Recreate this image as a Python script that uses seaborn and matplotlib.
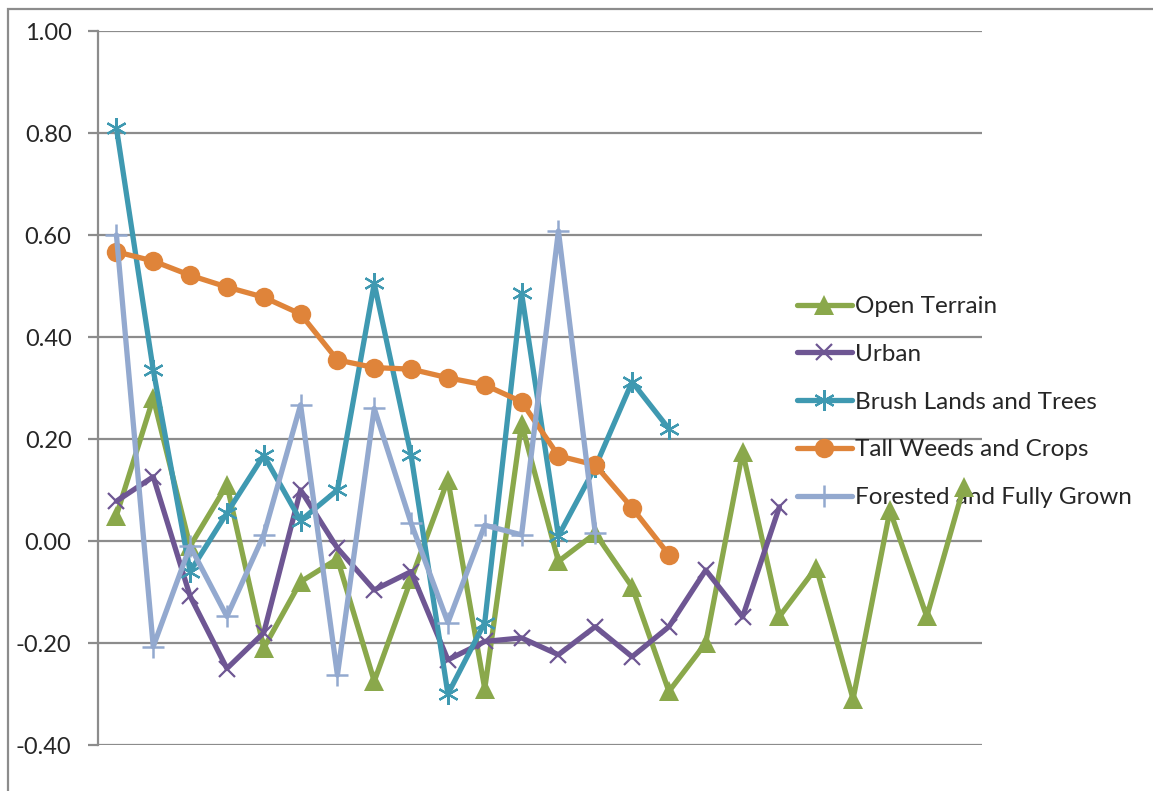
import matplotlib
matplotlib.use("Agg")
import matplotlib.pyplot as plt
from matplotlib.patches import Rectangle
import numpy as np
import pandas as pd
import seaborn as sns

sns.set_style("white")
plt.rcParams['font.family'] = ['Lato', 'DejaVu Sans']

# values, one list per land-cover class
open_terrain = [0.05, 0.28, -0.01, 0.11, -0.21, -0.08, -0.035, -0.275, -0.075, 0.12,
                -0.29, 0.23, -0.04, 0.015, -0.09, -0.295, -0.20, 0.175, -0.148, -0.052,
                -0.31, 0.06, -0.148, 0.105]
urban = [0.078, 0.126, -0.108, -0.25, -0.18, 0.10, -0.014, -0.096, -0.06, -0.233,
         -0.197, -0.19, -0.223, -0.168, -0.227, -0.168, -0.057, -0.149, 0.067]
brush = [0.81, 0.335, -0.06, 0.055, 0.168, 0.04, 0.10, 0.505, 0.168, -0.30,
         -0.16, 0.486, 0.01, 0.145, 0.312, 0.22]
tall_weeds = [0.567, 0.549, 0.521, 0.498, 0.478, 0.445, 0.355, 0.34, 0.337, 0.32,
              0.306, 0.273, 0.167, 0.149, 0.065, -0.027]
forested = [0.60, -0.207, -0.01, -0.148, 0.012, 0.267, -0.263, 0.26, 0.035, -0.16,
            0.031, 0.012, 0.608, 0.016]

y_ticks = [-0.40, -0.20, 0.00, 0.20, 0.40, 0.60, 0.80, 1.00]

series = [
    ("Open Terrain", open_terrain, "#8aa84b", dict(marker="^", markersize=14, markeredgewidth=0)),
    ("Urban", urban, "#6e5693", dict(marker="x", markersize=12, markeredgewidth=1.6)),
    ("Brush Lands and Trees", brush, "#3f99b1", dict(marker=(6, 2, 0), markersize=15, markeredgewidth=1.6)),
    ("Tall Weeds and Crops", tall_weeds, "#df843a", dict(marker="o", markersize=14, markeredgewidth=0)),
    ("Forested and Fully Grown", forested, "#93a9cf", dict(marker="+", markersize=16, markeredgewidth=1.8)),
]

W, H = 1153, 791
fig = plt.figure(figsize=(W / 100, H / 100), dpi=100)
ax = fig.add_axes([98 / W, 1 - 745 / H, (982 - 98) / W, (745 - 31) / H])

for name, vals, col, mk in series:
    df = pd.DataFrame({"x": np.arange(len(vals)), "y": vals})
    sns.lineplot(data=df, x="x", y="y", ax=ax, color=col, linewidth=3.8,
                 label=name, markeredgecolor=col, markerfacecolor=col, **mk)

ax.set_xlim(-0.5, 23.5)
ax.set_ylim(-0.4, 1.0)
ax.set_yticks(y_ticks)
ax.set_yticklabels([f"{v:.2f}" for v in y_ticks])
ax.set_xticks([])
ax.set_xlabel("")
ax.set_ylabel("")
ax.yaxis.grid(True, color="#8c8c8c", linewidth=1.6)
ax.set_axisbelow(True)
for s in ["top", "right", "bottom"]:
    ax.spines[s].set_visible(False)
ax.spines["left"].set_color("#8c8c8c")
ax.spines["left"].set_linewidth(1.6)
ax.tick_params(axis="y", direction="out", length=7, width=1.6, color="#8c8c8c",
               pad=12, labelsize=17, left=True)

leg = ax.legend(loc="center left", bbox_to_anchor=(797 / W, 1 - 402 / H),
                bbox_transform=fig.transFigure, frameon=False, fontsize=17.5,
                handlelength=2.25, handletextpad=0.15, labelspacing=1.1, borderpad=0,
                borderaxespad=0)
leg.set_zorder(1)

fig.patches.append(Rectangle((8 / W, -0.1), 1.2, 0.1 + 1 - 9 / H, fill=False,
                             edgecolor="#8c8c8c", linewidth=1.6, transform=fig.transFigure))

fig.savefig("out.png", dpi=100)
